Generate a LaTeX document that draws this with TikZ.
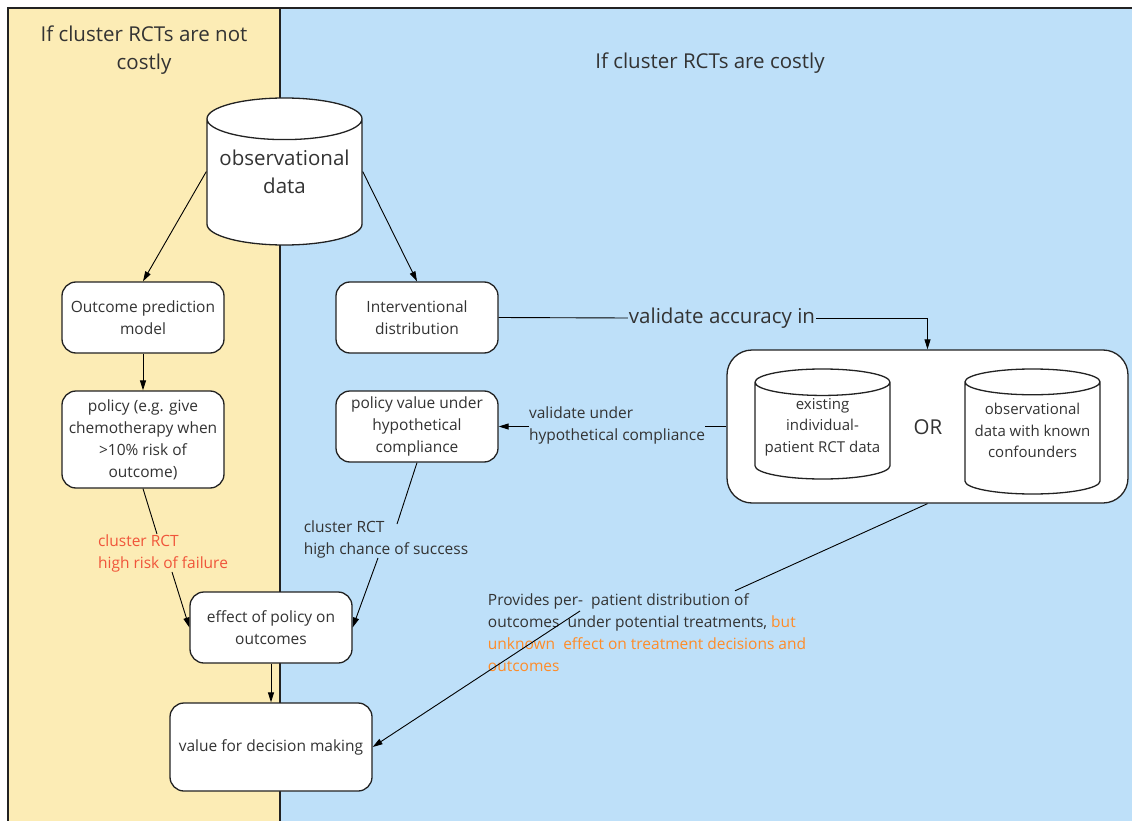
\documentclass[tikz,border=0pt]{standalone}
\usepackage{fontspec}
\setmainfont{Open Sans}
\usetikzlibrary{shapes.geometric, arrows.meta}

\definecolor{paneyellow}{HTML}{FCECB5}
\definecolor{paneblue}{HTML}{BEE0F9}
\definecolor{framec}{HTML}{222222}
\definecolor{txt}{HTML}{333333}
\definecolor{riskred}{HTML}{F0553A}
\definecolor{warnorange}{HTML}{FF8C28}

\tikzset{
  box/.style={draw=framec, fill=white, line width=1.3pt, rounded corners=14pt,
    align=center, text=txt, inner sep=0pt, font=\fontsize{15.5}{22}\selectfont},
  db/.style={cylinder, shape border rotate=90, anchor=shape center, draw=framec,
    fill=white, line width=1.3pt, inner sep=0pt},
  dbtext/.style={align=center, text=txt, inner sep=0pt, font=\fontsize{15}{21.5}\selectfont},
  lbl/.style={text=txt, align=left, inner sep=0pt, font=\fontsize{15.5}{22}\selectfont},
  conn/.style={draw=black, line width=0.9pt},
  arr/.style={conn, -{Triangle[length=10pt,width=6pt]}},
}

\begin{document}
\begin{tikzpicture}[x=1pt,y=-1pt]
  \useasboundingbox (0,0) rectangle (1132,821);

  % panels
  \fill[paneyellow] (8,8) rectangle (280,821);
  \fill[paneblue] (280,8) rectangle (1132,821);
  \draw[framec, line width=2.5pt] (8,821) -- (8,8) -- (1132,8);
  \draw[framec, line width=2.5pt] (280,8) -- (280,821);

  \node[text=txt, align=center, font=\fontsize{20.5}{28}\selectfont] (ttlcheap) at (144,50) {If cluster RCTs are not\\costly};
  \node[text=txt, font=\fontsize{20.5}{28}\selectfont] (ttlcostly) at (710,63) {If cluster RCTs are costly};

  % data stores (the rule only sets the size of the end ellipses)
  \node[db, minimum width=155pt, minimum height=147pt, aspect=0.32] (obs) at (284.5,171.5) {\rule{130pt}{0pt}};
  \node[dbtext, font=\fontsize{20.5}{28}\selectfont] (obstext) at (obs.shape center) {observational\\data};

  % left column
  \node[box, minimum width=162pt, minimum height=71pt] (outcome) at (143,317.5) {Outcome prediction\\model};
  \node[box, minimum width=162pt, minimum height=97pt] (policy) at (143,439.5) {policy (e.g. give\\chemotherapy when\\>10\% risk of\\outcome)};
  \node[box, minimum width=162pt, minimum height=71pt] (effect) at (271,627.5) {effect of policy on\\outcomes};
  \node[box, minimum width=202pt, minimum height=88pt] (value) at (271,747) {value for decision making};

  % right column
  \node[box, minimum width=162pt, minimum height=71pt] (interv) at (417,317.5) {Interventional\\distribution};
  \node[box, minimum width=162pt, minimum height=71pt] (polval) at (417,426.5) {policy value under\\hypothetical\\compliance};

  \node[box, rounded corners=25pt, minimum width=401pt, minimum height=153pt] (cont) at (927.5,426.5) {};
  \node[db, minimum width=135pt, minimum height=110pt, aspect=0.23] (rctdata) at (822.5,424) {\rule{115pt}{0pt}};
  \node[dbtext] (rcttext) at ([yshift=-3pt]rctdata.shape center) {existing\\individual-\\patient RCT data};
  \node[db, minimum width=135pt, minimum height=125pt, aspect=0.23] (confdata) at (1032.5,431.5) {\rule{112pt}{0pt}};
  \node[dbtext] (conftext) at ([yshift=1pt]confdata.shape center) {observational\\data with known\\confounders};
  \node[text=txt, font=\fontsize{20.5}{24}\selectfont] (ortxt) at (928,427) {OR};

  % labels
  \node[lbl, text=riskred] (riskl) at (163,553) {cluster RCT\\high risk of failure};
  \node[lbl] (succl) at (386,539) {cluster RCT\\high chance of success};
  \node[text=txt, font=\fontsize{20.5}{24}\selectfont, inner sep=1pt] (acc) at (722,318) {validate accuracy in};
  \node[lbl] (hypl) at (617,425) {validate under\\hypothetical compliance};
  \node[lbl] (prov) at (647,633)
    {Provides per-\ \ patient distribution of\\outcomes\ \ under potential treatments, \textcolor{warnorange}{but}\\
     \textcolor{warnorange}{unknown\ \ effect on treatment decisions and}\\\textcolor{warnorange}{outcomes}};

  % connectors
  \draw[arr] (obs.shape center -| obs.west) -- (outcome.north);
  \draw[arr] (obs.shape center -| obs.east) -- (interv.north);
  \draw[arr] (outcome.south) -- (policy.north);
  \draw[conn] (policy.south) -- ([xshift=-6pt]riskl.north);
  \draw[arr] ([xshift=9pt]riskl.south) -- (effect.west);
  \draw[conn] (polval.south) -- ([xshift=11pt,yshift=-4pt]succl.north);
  \draw[arr] ([xshift=-8pt]succl.south) -- (effect.east);
  \draw[arr] (effect.south) -- (value.north);
  \draw[conn] (interv.east) -- (acc.west);
  \draw[arr] (acc.east) -| (cont.north);
  \draw[conn] (cont.west) -- (hypl.east |- cont.west);
  \draw[arr] (hypl.west |- polval.east) -- (polval.east);
  \draw[conn] (cont.south) -- ([xshift=88pt,yshift=3pt]prov.north);
  \draw[arr] ([xshift=-67pt,yshift=22pt]prov.center) -- (value.east);
\end{tikzpicture}
\end{document}
